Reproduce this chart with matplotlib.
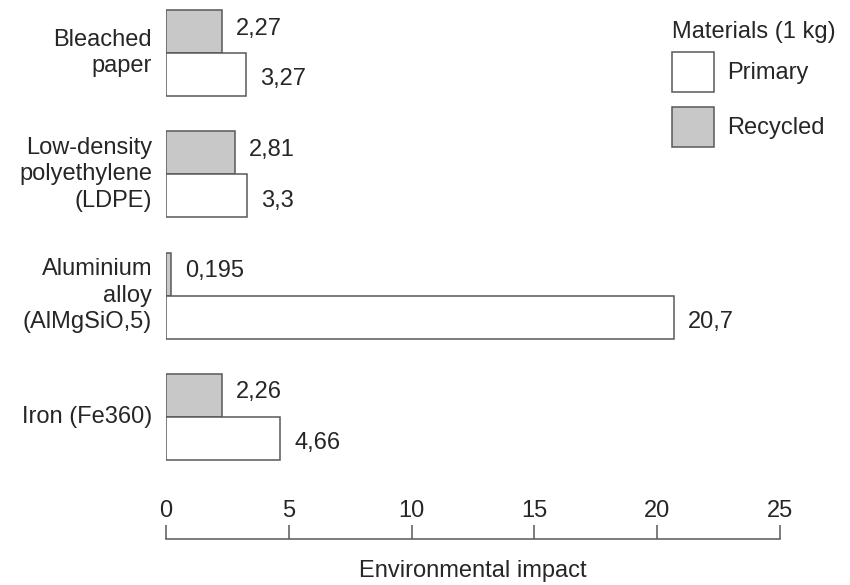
import matplotlib.pyplot as plt
from matplotlib.patches import Patch
import numpy as np

# data
materials = ["Bleached\npaper", "Low-density\npolyethylene\n(LDPE)",
             "Aluminium\nalloy\n(AlMgSiO,5)", "Iron (Fe360)"]
primary = [3.27, 3.3, 20.7, 4.66]
recycled = [2.27, 2.81, 0.195, 2.26]
ticks = [0, 5, 10, 15, 20, 25]

plt.rcParams['font.family'] = ['Liberation Sans', 'DejaVu Sans']
txt = '#262626'
edge = '#585858'
grey = '#c8c8c8'
fs = 17

fig = plt.figure(figsize=(8.5, 5.85), dpi=100)
W, H = 850, 585
# x=0 at 166 px, x=25 at 780 px; axis line at 539 px from top
ax = fig.add_axes([166 / W, (H - 539) / H, (780 - 166) / W, 539 / H])

y = np.arange(len(materials))
h = 0.355
ax.barh(y - h / 2, recycled, height=h, color=grey, edgecolor=edge, linewidth=1.1)
ax.barh(y + h / 2, primary, height=h, color='white', edgecolor=edge, linewidth=1.1)

def fmt(v):
    return str(v).replace('.', ',')

for i in range(len(materials)):
    ax.annotate(fmt(recycled[i]), (recycled[i], y[i] - h / 2), xytext=(10, 2),
                textcoords='offset points', va='center', ha='left', fontsize=fs, color=txt)
    ax.annotate(fmt(primary[i]), (primary[i], y[i] + h / 2), xytext=(10, -3.5),
                textcoords='offset points', va='center', ha='left', fontsize=fs, color=txt)
    ax.annotate(materials[i], (0, y[i]), xytext=(-10, 0), textcoords='offset points',
                ha='right', va='center', fontsize=fs, color=txt, linespacing=1.27)

ax.set_xlim(0, 25)
ax.set_ylim(3 + 122 / 121, -53 / 121)
ax.set_yticks([])
for s in ['top', 'right', 'left']:
    ax.spines[s].set_visible(False)
ax.spines['bottom'].set_color(edge)
ax.spines['bottom'].set_linewidth(1.1)
ax.set_xticks(ticks)
ax.set_xticklabels([str(t) for t in ticks])
ax.tick_params(axis='x', direction='in', length=10, width=1.1, color=edge,
               pad=-28, labelsize=fs, labelcolor=txt)
ax.set_xlabel("Environmental impact", fontsize=fs, color=txt, labelpad=15)
ax.patch.set_alpha(0)

# legend: title as separate text so the gap matches the original
fig.text(672 / W, 1 - 32 / H, "Materials (1 kg)", ha='left', va='center',
         fontsize=fs, color=txt)
handles = [Patch(facecolor='white', edgecolor=edge, linewidth=1.1),
           Patch(facecolor=grey, edgecolor=edge, linewidth=1.1)]
leg = fig.legend(handles, ["Primary", "Recycled"],
                 loc='upper left', bbox_to_anchor=(672 / W, 1 - 52 / H),
                 frameon=False, fontsize=fs,
                 handlelength=1.78, handleheight=2.23, labelspacing=0.64,
                 borderpad=0, borderaxespad=0, handletextpad=0.55)
for t in leg.get_texts():
    t.set_color(txt)

fig.savefig("out.png", dpi=100)
